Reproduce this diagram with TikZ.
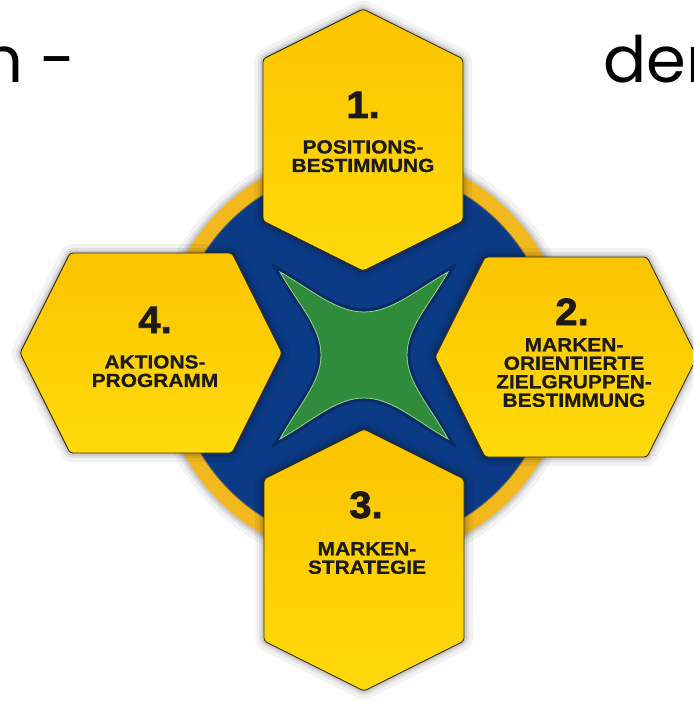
\documentclass[tikz,border=0pt]{standalone}
\usepackage{fontspec}
\setmainfont{Liberation Sans}
\newfontfamily\tilefont[FakeStretch=1.1, FakeBold=0.6]{Liberation Sans}
\newfontfamily\numfont[FakeStretch=1.05, FakeBold=2]{Liberation Sans}
\newfontfamily\gothicfont{Poppins}
\usepackage{tikz}
\usetikzlibrary{calc,shadows}
\definecolor{hexYellow}{HTML}{FFDA0A}
\definecolor{hexGold}{HTML}{FBC400}
\definecolor{hexEdge}{HTML}{3A2C08}
\definecolor{ringGold}{HTML}{F2B81E}
\definecolor{ringBlue}{HTML}{0B3B85}
\definecolor{starGreen}{HTML}{2E8C3A}
\definecolor{starLight}{HTML}{9AD48F}
\definecolor{ink}{HTML}{1C1A14}
\tikzset{
  hexGlow/.style={preaction={draw=black, opacity=0.05, line width=18pt},
    preaction={draw=black, opacity=0.07, line width=10pt},
    preaction={draw=black, opacity=0.1, line width=5pt}},
  hexTile/.style={hexGlow, draw=hexEdge, line width=0.9pt, rounded corners=3pt,
    top color=hexGold, bottom color=hexYellow},
  hexNum/.style={text=ink, inner sep=0pt, font=\numfont\bfseries\fontsize{38}{38}\selectfont},
  hexText/.style={text=ink, inner sep=0pt, align=center,
    font=\tilefont\bfseries\fontsize{19}{18.5}\selectfont},
  titleText/.style={text=black, inner sep=0pt, font=\gothicfont\fontsize{64}{64}\selectfont}
}

\begin{document}
\begin{tikzpicture}[x=1pt, y=-1pt]
  \useasboundingbox (0,0) rectangle (693,703);
  \clip (0,0) rectangle (693,703);
  \fill[white] (0,0) rectangle (693,703);
  \def\hw{100}
  \def\hp{50}
  \def\hf{162}
  \def\hl{131}
  \coordinate (O) at (364,356);
  \coordinate (T) at (363,140);
  \coordinate (R) at (566,357);
  \coordinate (B) at (364,560);
  \coordinate (L) at (151,353);

  \fill[ringGold, hexGlow] (O) circle (205);
  \fill[ringBlue, draw=hexEdge!70, line width=0.8pt] (O) circle (190);

  \fill[starGreen, draw=starLight, line width=0.8pt,
    preaction={draw=black, opacity=0.25, line width=7pt}]
    (280,272) .. controls (312,290) and (336,312) .. (364,312)
    .. controls (392,312) and (416,290) .. (448,272)
    .. controls (430,304) and (407,327) .. (407,355)
    .. controls (407,383) and (430,406) .. (448,439)
    .. controls (416,421) and (392,398) .. (364,398)
    .. controls (336,398) and (312,421) .. (280,439)
    .. controls (298,406) and (321,383) .. (321,355)
    .. controls (321,327) and (298,304) .. cycle;

  \foreach \c in {T,B}
    \draw[hexTile] ($(\c)+(0,-\hl)$) -- ++(\hw,\hp) -- ++(0,\hf) -- ++(-\hw,\hp)
      -- ++(-\hw,-\hp) -- ++(0,-\hf) -- cycle;
  \foreach \c in {R,L}
    \draw[hexTile] ($(\c)+(-\hl,0)$) -- ++(\hp,-\hw) -- ++(\hf,0) -- ++(\hp,\hw)
      -- ++(-\hp,\hw) -- ++(-\hf,0) -- cycle;

  \node[hexNum, anchor=base] (num1) at (363,118) {1.};
  \node[hexText, anchor=north] (lab1) at (363,140) {POSITIONS-\\BESTIMMUNG};
  \node[hexNum, anchor=base] (num2) at (572,325) {2.};
  \node[hexText, anchor=north] (lab2) at (574,338) {MARKEN-\\ORIENTIERTE\\ZIELGRUPPEN-\\BESTIMMUNG};
  \node[hexNum, anchor=base] (num3) at (366,518) {3.};
  \node[hexText, anchor=north] (lab3) at (367,542) {MARKEN-\\STRATEGIE};
  \node[hexNum, anchor=base] (num4) at (155,333) {4.};
  \node[hexText, anchor=north] (lab4) at (155,355) {AKTIONS-\\PROGRAMM};

  \node[titleText, anchor=base east] (titleL) at (76,83) {m -};
  \node[titleText, anchor=base west] (titleR) at (603,83) {der};
\end{tikzpicture}
\end{document}
